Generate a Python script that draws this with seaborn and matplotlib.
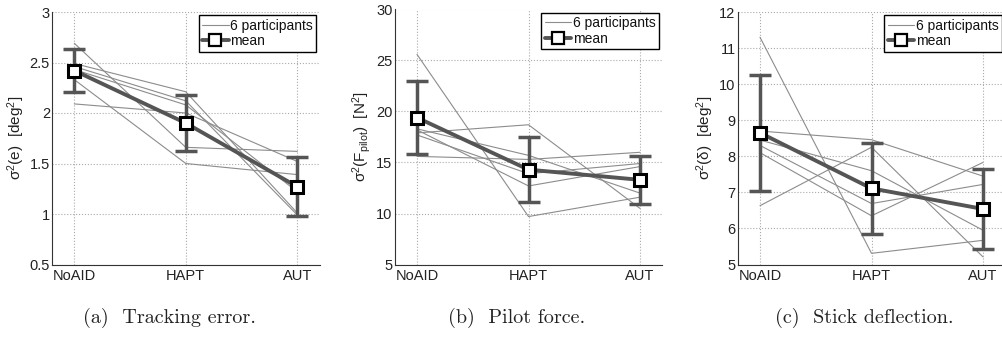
import numpy as np
import pandas as pd
import matplotlib
matplotlib.use("Agg")
import matplotlib.pyplot as plt
import seaborn as sns
from matplotlib.lines import Line2D
from matplotlib.ticker import FormatStrFormatter, MultipleLocator

# ---------------- data ----------------
conditions = ["NoAID", "HAPT", "AUT"]

err_participants = [
    [2.69, 1.66, 1.62],
    [2.49, 2.21, 1.01],
    [2.46, 2.12, 0.99],
    [2.43, 2.08, 1.22],
    [2.33, 1.50, 1.39],
    [2.09, 2.00, 1.52],
]
err_mean = [2.42, 1.90, 1.27]
err_sd = [0.21, 0.28, 0.29]

force_participants = [
    [25.6, 9.7, 11.6],
    [18.3, 15.7, 12.0],
    [18.2, 12.7, 14.6],
    [17.9, 18.7, 10.5],
    [17.7, 13.9, 14.9],
    [15.6, 15.3, 16.0],
]
force_mean = [19.4, 14.3, 13.3]
force_sd = [3.6, 3.2, 2.35]

defl_participants = [
    [11.3, 5.31, 5.67],
    [6.63, 8.25, 5.21],
    [8.70, 8.46, 7.45],
    [8.45, 7.60, 5.95],
    [8.30, 6.69, 7.22],
    [8.10, 6.35, 7.83],
]
defl_mean = [8.65, 7.11, 6.54]
defl_sd = [1.60, 1.27, 1.12]

ylabels = ["σ$^2$(e)  [deg$^2$]", "σ$^2$(F$_{pilot}$)  [N$^2$]", "σ$^2$(δ)  [deg$^2$]"]
ylims = [(0.5, 3), (5, 30), (5, 12)]
ysteps = [0.5, 5, 1]
captions = ["(a)  Tracking error.", "(b)  Pilot force.", "(c)  Stick deflection."]

# ---------------- style ----------------
sns.set_theme(style="white")
plt.rcParams["font.family"] = ["Liberation Sans", "DejaVu Sans"]
plt.rcParams["mathtext.fontset"] = "custom"
plt.rcParams["mathtext.rm"] = "Liberation Sans"
plt.rcParams["mathtext.it"] = "Liberation Sans:italic"
plt.rcParams["mathtext.default"] = "regular"

PART_C = "#8c8c8c"
MEAN_C = "#555555"

fig = plt.figure(figsize=(10.02, 3.37), dpi=100)
W, H = 1002.0, 337.0
lefts = [52, 394.7, 737.7]
tops = [12, 9.5, 12]
bottom_px = 264.5
width_px = 267.6

datasets = [
    (err_participants, err_mean, err_sd),
    (force_participants, force_mean, force_sd),
    (defl_participants, defl_mean, defl_sd),
]
cap_x = [169, 517, 864]

x_pos = np.arange(1, len(conditions) + 1)

for i, (parts, mean, sd) in enumerate(datasets):
    ax = fig.add_axes([lefts[i] / W, 1 - bottom_px / H, width_px / W, (bottom_px - tops[i]) / H])
    rows = []
    for p, vals in enumerate(parts):
        for c, v in enumerate(vals):
            rows.append({"participant": p, "x": x_pos[c], "value": v})
    df = pd.DataFrame(rows)
    sns.lineplot(data=df, x="x", y="value", units="participant", estimator=None,
                 color=PART_C, lw=0.8, ax=ax, legend=False, zorder=2)
    ax.errorbar(x_pos, mean, yerr=sd, fmt="none", ecolor=MEAN_C, elinewidth=2.5,
                capsize=8, capthick=2.5, zorder=3)
    mdf = pd.DataFrame({"x": x_pos, "value": mean})
    sns.lineplot(data=mdf, x="x", y="value", color=MEAN_C, lw=2.8, marker="s",
                 markersize=9, markerfacecolor="white", markeredgecolor="black",
                 markeredgewidth=2.2, ax=ax, zorder=4)

    ax.set_xlim(0.8, 3.2)
    ax.set_ylim(*ylims[i])
    ax.set_xticks(x_pos)
    ax.set_xticklabels(conditions)
    ax.yaxis.set_major_locator(MultipleLocator(ysteps[i]))
    ax.yaxis.set_major_formatter(FormatStrFormatter("%g"))
    ax.set_xlabel("")
    ax.set_ylabel(ylabels[i], fontsize=11, color="#222222", labelpad=2)
    ax.grid(True, linestyle=":", color="#aaaaaa", linewidth=0.8)
    ax.set_axisbelow(True)
    for s in ["top", "right"]:
        ax.spines[s].set_visible(False)
    for s in ["left", "bottom"]:
        ax.spines[s].set_color("#333333")
        ax.spines[s].set_linewidth(0.8)
    ax.tick_params(direction="in", length=3, width=0.8, colors="#333333",
                   labelcolor="#222222", labelsize=10.5)
    ax.tick_params(axis="y", pad=1.5)
    ax.tick_params(axis="x", pad=3)

    handles = [
        Line2D([], [], color=PART_C, lw=0.8),
        Line2D([], [], color=MEAN_C, lw=2.8, marker="s", markersize=8,
               markerfacecolor="white", markeredgecolor="black", markeredgewidth=1.6),
    ]
    leg = ax.legend(handles, ["6 participants", "mean"], loc="upper right",
                    bbox_to_anchor=(0.987, 0.988), borderaxespad=0, fontsize=10,
                    frameon=True, fancybox=False, framealpha=1, edgecolor="black",
                    handlelength=1.9, handletextpad=0.1, borderpad=0.25,
                    labelspacing=0.12)
    leg.get_frame().set_linewidth(1.0)
    for t in leg.get_texts():
        t.set_color("#111111")

    fig.text(cap_x[i] / W, 1 - 318 / H, captions[i], ha="center", va="center",
             fontsize=14.5, family="cmr10", color="#222222")

fig.savefig("out.png", dpi=100)
